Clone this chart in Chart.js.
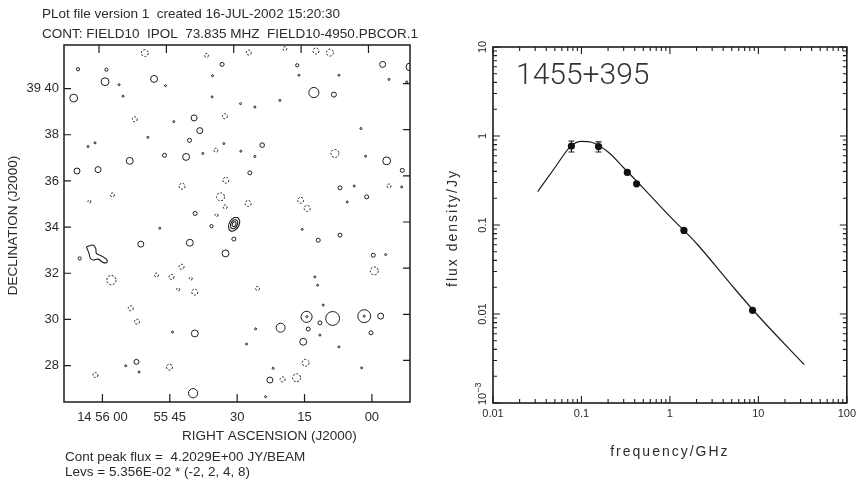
<!DOCTYPE html>
<html>
<head>
<meta charset="utf-8">
<script src="https://cdn.jsdelivr.net/npm/chart.js@4.4.1/dist/chart.umd.min.js"></script>
<style>
  body { margin: 0; background: #fff; }
  #wrap { position: relative; width: 860px; height: 485px; }
  canvas { position: absolute; top: 0; }
  #map { left: 0; }
  #spec { left: 440px; }
</style>
</head>
<body>
<div id="wrap">
  <canvas id="map" width="440" height="485"></canvas>
  <canvas id="spec" width="420" height="485"></canvas>
</div>
<script>
// ---- map: axes (RA seconds after 14h55m, Dec arcmin after 39 deg) ----
const raTicks = [60, 45, 30, 15, 0];
const raLabels = ["14 56 00", "55 45", "30", "15", "00"];
const decTicks = [28, 30, 32, 34, 36, 38, 40];
const decLabels = ["28", "30", "32", "34", "36", "38", "39 40"];

const headerText = "PLot file version 1  created 16-JUL-2002 15:20:30";
const contText = "CONT: FIELD10  IPOL  73.835 MHZ  FIELD10-4950.PBCOR.1";
const raTitle = "RIGHT ASCENSION (J2000)";
const decTitle = "DECLINATION (J2000)";
const peakText = "Cont peak flux =  4.2029E+00 JY/BEAM";
const levsText = "Levs = 5.356E-02 * (-2, 2, 4, 8)";

// positive contours (RA s, Dec arcmin, extent arcmin)
const posRa = [56.3, 45.96, 55.41, 35.48, 35.57, 44.11, 49.9, 63.21, 61.65, 37.65, 47.23, 16.25, 7.34, -3.81, -7.75,
  29.24, 26.06, 20.49, 2.43, 32.97, 29.18, 26.06, 1.39, 3.93, -6.64, 5.49, 15.52, 12.69, 12.08, 10.84, -3.07, 25.9,
  11.57, 7.34, 2.28, 23.67, 44.4, 54.81, 51.84, 21.98, 27.91, 65.06, 14.47, 1.7,
  65.44, 59.11, 40.61, 46.18, 39.36, 35.71, 33.35, 16.63, 8.45, -6.77, 27.17, 24.43, 7.11, 1.16, 30.74, 11.95, 7.11,
  -0.31, 11.57, 14.18, 0.2, -1.96, 52.42, 51.46,
  59.42, 48.5, 66.4, 39.59, 38.32, 53.92, 41.37, 65.66, 60.98, -2.4, 12.91, -3.29, 40.54, 32.59, 39.43, 20.33, 15.29,
  22.71, 14.54, 8.74, 1.7, 39.81, -8.49];
const posDec = [40.17, 40.13, 39.67, 40.56, 39.64, 38.57, 37.89, 37.49, 37.65, 37.19, 33.95, 40.58, 40.58, 40.4, 40.29,
  39.35, 39.2, 39.49, 38.27, 37.62, 37.29, 37.06, 37.07, 35.78, 35.74, 35.09, 33.9, 31.84, 31.48, 30.62, 32.81, 29.59,
  29.32, 28.81, 27.9, 26.65, 29.45, 27.99, 27.72, 27.88, 28.93, 32.64, 30.12, 30.14,
  40.84, 40.82, 37.76, 37.11, 34.59, 34.04, 41.05, 41.01, 39.74, 36.46, 36.35, 37.55, 35.7, 35.31, 33.48, 33.43, 33.65,
  32.78, 29.85, 29.58, 29.42, 30.14, 28.16, 33.26,
  40.3, 40.42, 39.59, 38.73, 38.18, 36.87, 37.04, 36.43, 36.49, 41.05, 39.83, 36.87, 33.32, 32.86, 29.39, 29.64, 29.03,
  27.37, 30.11, 30.04, 30.14, 26.8, 40.94];
const posExt = [0.043, 0.043, 0.043, 0.043, 0.043, 0.043, 0.043, 0.043, 0.043, 0.043, 0.043, 0.043, 0.043, 0.043, 0.043,
  0.043, 0.043, 0.043, 0.043, 0.043, 0.043, 0.043, 0.043, 0.043, 0.043, 0.043, 0.043, 0.043, 0.043, 0.043, 0.043, 0.043,
  0.043, 0.043, 0.043, 0.043, 0.043, 0.043, 0.043, 0.043, 0.043, 0.07, 0.043, 0.043,
  0.07, 0.07, 0.087, 0.087, 0.087, 0.07, 0.087, 0.07, 0.108, 0.087, 0.087, 0.1, 0.087, 0.087, 0.087, 0.087, 0.087,
  0.087, 0.087, 0.087, 0.087, 0.13, 0.108, 0.13,
  0.17, 0.15, 0.17, 0.13, 0.13, 0.15, 0.15, 0.13, 0.13, 0.13, 0.22, 0.17, 0.15, 0.15, 0.15, 0.195, 0.15,
  0.13, 0.24, 0.3, 0.28, 0.2, 0.17];

// negative (dashed) contours
const negRa = [50.57, 36.82, 27.4, 19.37, 12.46, 9.34, 52.8, 32.74, 34.75, 8.23, 42.26, 57.77, 62.9, 32.52, -3.81,
  33.7, 27.55, 15.87, 14.4, 32.68, 58, 47.97, 44.62, 42.39, 43.15, 40.32, 39.43, 53.69, 52.29, 61.56, 45.07, -0.53,
  25.46, 14.76, 19.88, 16.76, 34.59];
const negDec = [41.54, 41.44, 41.56, 41.73, 41.63, 41.56, 38.67, 38.8, 37.33, 37.19, 35.77, 35.39, 35.11, 36.03, 35.78,
  35.31, 35.02, 35.16, 34.81, 34.87, 31.7, 31.92, 31.84, 32.28, 31.3, 31.77, 31.18, 30.48, 29.9, 27.59, 27.93, 32.1,
  31.34, 28.12, 27.4, 27.47, 34.52];
const negExt = [0.15, 0.087, 0.108, 0.087, 0.13, 0.15, 0.108, 0.108, 0.087, 0.173, 0.13, 0.087, 0.065, 0.13, 0.087,
  0.173, 0.13, 0.13, 0.13, 0.087, 0.2, 0.087, 0.108, 0.108, 0.065, 0.065, 0.13, 0.108, 0.108, 0.108, 0.13, 0.173,
  0.087, 0.15, 0.108, 0.173, 0.065];

// main source, three levels, and extended blob
const outerRa = [29.84, 29.42, 29.74, 30.6, 31.51, 31.92, 31.61, 30.74, 29.84];
const outerDec = [34.41, 34.25, 34.02, 33.85, 33.84, 34.0, 34.23, 34.4, 34.41];
const midRa = [30.13, 29.86, 30.07, 30.62, 31.22, 31.48, 31.28, 30.72, 30.13];
const midDec = [34.31, 34.21, 34.06, 33.95, 33.94, 34.05, 34.2, 34.31, 34.31];
const innerRa = [30.38, 30.23, 30.34, 30.65, 30.96, 31.11, 31.0, 30.69, 30.38];
const innerDec = [34.23, 34.17, 34.09, 34.03, 34.03, 34.08, 34.17, 34.22, 34.23];
const blobRa = [63.57, 62.09, 61.49, 61.34, 60.22, 59.11, 58.97, 59.87, 60.98, 61.94, 62.67, 62.99, 63.57];
const blobDec = [33.14, 33.22, 33.07, 32.86, 32.75, 32.61, 32.47, 32.47, 32.61, 32.57, 32.64, 32.86, 33.14];

// ---- spectrum ----
const sourceName = "1455+395";
const freqGHz = [0.077, 0.156, 0.33, 0.42, 1.44, 8.6];
const fluxJy = [0.77, 0.76, 0.39, 0.29, 0.087, 0.011];
const fluxErr = [0.11, 0.1, 0, 0, 0, 0];
const fitFreq = [0.032, 0.05, 0.075, 0.1, 0.13, 0.2, 0.3, 0.5, 1, 2, 5, 10, 33];
const fitFlux = [0.237, 0.44, 0.76, 0.87, 0.85, 0.66, 0.44, 0.26, 0.125, 0.062, 0.021, 0.0095, 0.0027];
const freqTicks = [0.01, 0.1, 1, 10, 100];
const freqLabels = ["0.01", "0.1", "1", "10", "100"];
const fluxTicks = [0.001, 0.01, 0.1, 1, 10];
const fluxLabels = ["10^-3", "0.01", "0.1", "1", "10"];

const FONT = '"Liberation Sans", Arial, Helvetica, sans-serif';
const INK = "#1c1c1c";
const TXT = "#2b2b2b";

function toXY(xs, ys) {
  return xs.map((v, i) => ({ x: v, y: ys[i] }));
}

function pxPerArcmin(chart) {
  const y = chart.scales.y;
  return Math.abs(y.getPixelForValue(0) - y.getPixelForValue(1));
}

function contourSet(xs, ys, ext, negative) {
  return {
    data: toXY(xs, ys),
    negative: negative,
    pointRadius: (c) => ext[c.dataIndex] * pxPerArcmin(c.chart),
    pointBackgroundColor: "rgba(0,0,0,0)",
    pointBorderColor: INK,
    pointBorderWidth: 1,
  };
}

function loopSet(xs, ys) {
  return {
    data: toXY(xs, ys),
    showLine: true,
    tension: 0.35,
    pointRadius: 0,
    borderColor: INK,
    borderWidth: 1.1,
  };
}

const mapDeco = {
  id: "mapDeco",
  beforeDatasetDraw(chart, args) {
    if (chart.data.datasets[args.index].negative) chart.ctx.setLineDash([2, 1.6]);
  },
  afterDatasetDraw(chart) {
    chart.ctx.setLineDash([]);
  },
  afterDraw(chart) {
    const { ctx, chartArea: a, scales } = chart;
    ctx.save();
    ctx.strokeStyle = INK;
    ctx.lineWidth = 1.5;
    ctx.strokeRect(a.left, a.top, a.right - a.left, a.bottom - a.top);
    ctx.lineWidth = 1.2;
    ctx.beginPath();
    raTicks.forEach((v) => {
      const xb = scales.x.getPixelForValue(v);
      ctx.moveTo(xb, a.bottom);
      ctx.lineTo(xb, a.bottom - 8);
      const xt = scales.x2.getPixelForValue(v);
      ctx.moveTo(xt, a.top);
      ctx.lineTo(xt, a.top + 8);
    });
    decTicks.forEach((v) => {
      const yl = scales.y.getPixelForValue(v);
      ctx.moveTo(a.left, yl);
      ctx.lineTo(a.left + 7, yl);
      const yr = scales.y2.getPixelForValue(v);
      ctx.moveTo(a.right, yr);
      ctx.lineTo(a.right - 7, yr);
    });
    ctx.stroke();

    ctx.fillStyle = TXT;
    ctx.font = "13.5px " + FONT;
    ctx.textAlign = "left";
    ctx.fillText(headerText, 42, 17.5);
    ctx.fillText(contText, 42, 38);
    ctx.fillText(raTitle, 182, 440);
    ctx.fillText(peakText, 65, 461);
    ctx.fillText(levsText, 65, 476);
    ctx.translate(16.5, (a.top + a.bottom) / 2 + 2);
    ctx.rotate(-Math.PI / 2);
    ctx.textAlign = "center";
    ctx.fillText(decTitle, 0, 0);
    ctx.restore();
  },
};

new Chart(document.getElementById("map"), {
  type: "scatter",
  data: {
    datasets: [
      contourSet(posRa, posDec, posExt, false),
      contourSet(negRa, negDec, negExt, true),
      loopSet(outerRa, outerDec),
      loopSet(midRa, midDec),
      loopSet(innerRa, innerDec),
      loopSet(blobRa, blobDec),
    ],
  },
  options: {
    responsive: false,
    animation: false,
    devicePixelRatio: 1,
    events: [],
    layout: { padding: { top: 45, right: 30, left: 0, bottom: 0 } },
    plugins: { legend: { display: false }, tooltip: { enabled: false } },
    scales: {
      x: {
        type: "linear",
        reverse: true,
        min: -8.49,
        max: 68.56,
        grid: { display: false, drawTicks: false },
        border: { display: false },
        afterBuildTicks: (axis) => { axis.ticks = raTicks.map((v) => ({ value: v })); },
        afterFit: (axis) => { axis.height = 83; },
        ticks: {
          autoSkip: false,
          maxRotation: 0,
          padding: 8,
          color: TXT,
          font: { family: FONT, size: 13 },
          callback: (v) => raLabels[raTicks.indexOf(v)],
        },
      },
      x2: { type: "linear", position: "top", display: false, reverse: true, min: -9.25, max: 67.8 },
      y: {
        type: "linear",
        min: 26.42,
        max: 41.89,
        grid: { display: false, drawTicks: false },
        border: { display: false },
        afterBuildTicks: (axis) => { axis.ticks = decTicks.map((v) => ({ value: v })); },
        afterFit: (axis) => { axis.width = 64; },
        ticks: {
          padding: 5,
          color: TXT,
          font: { family: FONT, size: 13 },
          callback: (v) => decLabels[decTicks.indexOf(v)],
        },
      },
      y2: { type: "linear", position: "right", display: false, min: 26.2, max: 41.67 },
    },
  },
  plugins: [mapDeco],
});

// ---- spectrum chart ----
function minorTicks(decades) {
  const out = [];
  for (let i = 0; i < decades.length - 1; i++) {
    for (let k = 2; k <= 9; k++) out.push(decades[i] * k);
  }
  return out;
}

const specDeco = {
  id: "specDeco",
  afterDatasetsDraw(chart) {
    const { ctx, scales } = chart;
    ctx.save();
    ctx.strokeStyle = INK;
    ctx.lineWidth = 1.1;
    ctx.beginPath();
    freqGHz.forEach((f, i) => {
      if (!fluxErr[i]) return;
      const x = scales.x.getPixelForValue(f);
      const y1 = scales.y.getPixelForValue(fluxJy[i] + fluxErr[i]);
      const y2 = scales.y.getPixelForValue(fluxJy[i] - fluxErr[i]);
      ctx.moveTo(x, y1);
      ctx.lineTo(x, y2);
      ctx.moveTo(x - 3, y1);
      ctx.lineTo(x + 3, y1);
      ctx.moveTo(x - 3, y2);
      ctx.lineTo(x + 3, y2);
    });
    ctx.stroke();
    ctx.restore();
  },
  afterDraw(chart) {
    const { ctx, chartArea: a, scales } = chart;
    ctx.save();
    ctx.strokeStyle = INK;
    ctx.lineWidth = 1.6;
    ctx.strokeRect(a.left, a.top, a.right - a.left, a.bottom - a.top);
    ctx.lineWidth = 1.1;
    ctx.beginPath();
    const xMinor = minorTicks(freqTicks);
    freqTicks.concat(xMinor).forEach((v, i) => {
      const len = i < freqTicks.length ? 7 : 4;
      const x = scales.x.getPixelForValue(v);
      ctx.moveTo(x, a.bottom);
      ctx.lineTo(x, a.bottom - len);
      ctx.moveTo(x, a.top);
      ctx.lineTo(x, a.top + len);
    });
    const yMinor = minorTicks(fluxTicks);
    fluxTicks.concat(yMinor).forEach((v, i) => {
      const len = i < fluxTicks.length ? 7 : 4;
      const y = scales.y.getPixelForValue(v);
      ctx.moveTo(a.left, y);
      ctx.lineTo(a.left + len, y);
      ctx.moveTo(a.right, y);
      ctx.lineTo(a.right - len, y);
    });
    ctx.stroke();

    // rotated y tick labels, kept clear of the bottom corner
    ctx.fillStyle = TXT;
    fluxTicks.forEach((v, i) => {
      const parts = fluxLabels[i].split("^");
      const sup = parts[1] ? parts[1].replace("-", "\u2212") : "";
      ctx.font = "11px " + FONT;
      const w0 = ctx.measureText(parts[0]).width;
      ctx.font = "9px " + FONT;
      const w1 = sup ? ctx.measureText(sup).width : 0;
      const half = (w0 + w1) / 2;
      const y = Math.min(scales.y.getPixelForValue(v), a.bottom + 2 - half);
      ctx.save();
      ctx.translate(a.left - 10, y);
      ctx.rotate(-Math.PI / 2);
      ctx.textBaseline = "middle";
      ctx.textAlign = "left";
      ctx.font = "11px " + FONT;
      ctx.fillText(parts[0], -half, 0);
      if (sup) {
        ctx.font = "9px " + FONT;
        ctx.fillText(sup, -half + w0, -4);
      }
      ctx.restore();
    });

    ctx.font = "14px " + FONT;
    ctx.letterSpacing = "2px";
    ctx.textAlign = "center";
    ctx.fillText("frequency/GHz", (a.left + a.right) / 2, 456);
    ctx.save();
    ctx.translate(17, 228);
    ctx.rotate(-Math.PI / 2);
    ctx.fillText("flux density/Jy", 0, 0);
    ctx.restore();
    ctx.letterSpacing = "0px";

    ctx.font = "300 30px Roboto, " + FONT;
    ctx.textAlign = "left";
    ctx.fillStyle = "#333";
    ctx.fillText(sourceName, 76, 83.5);
    ctx.restore();
  },
};

new Chart(document.getElementById("spec"), {
  type: "scatter",
  data: {
    datasets: [
      {
        data: toXY(freqGHz, fluxJy),
        pointRadius: 3.6,
        pointBackgroundColor: "#111",
        pointBorderWidth: 0,
      },
      {
        data: toXY(fitFreq, fitFlux),
        showLine: true,
        cubicInterpolationMode: "monotone",
        pointRadius: 0,
        borderColor: INK,
        borderWidth: 1.2,
      },
    ],
  },
  options: {
    responsive: false,
    animation: false,
    devicePixelRatio: 1,
    events: [],
    layout: { padding: { top: 47, right: 10, left: 0, bottom: 0 } },
    plugins: { legend: { display: false }, tooltip: { enabled: false } },
    scales: {
      x: {
        type: "logarithmic",
        min: 0.01,
        max: 100,
        grid: { display: false, drawTicks: false },
        border: { display: false },
        afterBuildTicks: (axis) => { axis.ticks = freqTicks.map((v) => ({ value: v })); },
        afterFit: (axis) => { axis.height = 82; },
        ticks: {
          autoSkip: false,
          maxRotation: 0,
          padding: 4,
          color: TXT,
          font: { family: FONT, size: 11 },
          callback: (v) => freqLabels[freqTicks.indexOf(v)],
        },
      },
      y: {
        type: "logarithmic",
        min: 0.001,
        max: 10,
        grid: { display: false, drawTicks: false },
        border: { display: false },
        afterBuildTicks: (axis) => { axis.ticks = fluxTicks.map((v) => ({ value: v })); },
        afterFit: (axis) => { axis.width = 53; },
        ticks: { display: false },
      },
    },
  },
  plugins: [specDeco],
});
</script>
</body>
</html>
